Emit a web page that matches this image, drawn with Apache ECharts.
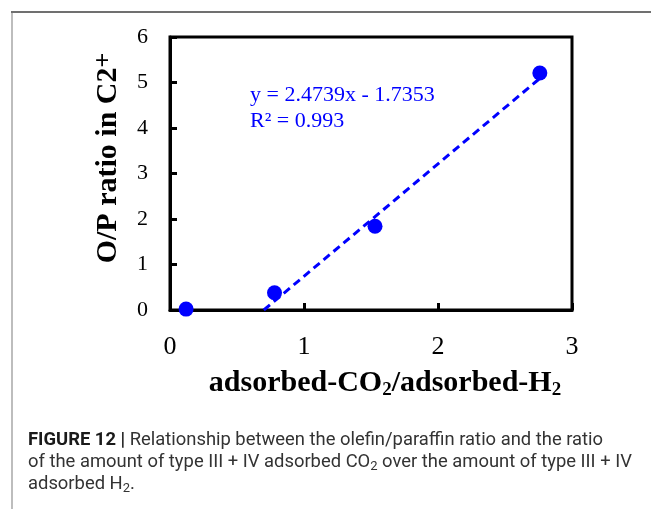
<!DOCTYPE html>
<html>
<head>
<meta charset="utf-8">
<script src="https://cdn.jsdelivr.net/npm/echarts@6/dist/echarts.min.js"></script>
<style>
    html, body { margin: 0; padding: 0; background: #fff; }
    #chart { width: 651px; height: 509px; }
</style>
</head>
<body>
<div id="chart"></div>
<script>
    // measured points (adsorbed-CO2/adsorbed-H2 vs O/P ratio)
    const ratioX = [0.12, 0.78, 1.53, 2.76]
    const opRatio = [0.02, 0.38, 1.84, 5.21]
    // linear fit ends as drawn (y = 2.4739x - 1.7353)
    const fitX = [0.70, 2.76]
    const fitY = [0.0, 5.09]
    const xTicks = [0, 1, 2, 3]
    const yTicks = [0, 1, 2, 3, 4, 5, 6]

    const serif = '"Liberation Serif", "Times New Roman", serif'
    const sans = 'Roboto, "Liberation Sans", Arial, sans-serif'
    const blue = '#0000ff'

    const chart = echarts.init(document.getElementById('chart'))

    const option = {
        backgroundColor: '#fff',
        animation: false,
        grid: {
            left: 170,
            top: 37,
            right: 79,
            bottom: 199,
            show: true,
            borderColor: '#000',
            borderWidth: 3
        },
        xAxis: {
            type: 'value',
            min: xTicks[0],
            max: xTicks[xTicks.length - 1],
            interval: 1,
            axisLine: { show: true, lineStyle: { color: '#000', width: 3 } },
            axisTick: { show: true, inside: true, length: 7, lineStyle: { color: '#000', width: 3 } },
            splitLine: { show: false },
            axisLabel: {
                margin: 24,
                color: '#000',
                fontFamily: serif,
                fontSize: 26
            }
        },
        yAxis: {
            type: 'value',
            min: yTicks[0],
            max: yTicks[yTicks.length - 1],
            interval: 1,
            axisLine: { show: true, lineStyle: { color: '#000', width: 3 } },
            axisTick: { show: true, inside: true, length: 7, lineStyle: { color: '#000', width: 3 } },
            splitLine: { show: false },
            axisLabel: {
                margin: 22,
                color: '#000',
                fontFamily: serif,
                fontSize: 22
            }
        },
        series: [
            {
                type: 'line',
                data: fitX.map((x, i) => [x, fitY[i]]),
                showSymbol: false,
                symbol: 'none',
                lineStyle: { color: blue, width: 3, type: [8, 5] },
                z: 2
            },
            {
                type: 'scatter',
                data: ratioX.map((x, i) => [x, opRatio[i]]),
                symbol: 'circle',
                symbolSize: 15,
                itemStyle: { color: blue, opacity: 1 },
                z: 3
            }
        ],
        graphic: [
            // figure frame
            {
                type: 'line',
                shape: { x1: 12, y1: 12, x2: 12, y2: 509 },
                style: { stroke: '#bdbdbd', lineWidth: 2 }
            },
            {
                type: 'line',
                shape: { x1: 11, y1: 12, x2: 651, y2: 12 },
                style: { stroke: '#707070', lineWidth: 2 }
            },
            // fit equation
            {
                type: 'text',
                left: 250,
                top: 82,
                style: {
                    text: 'y = 2.4739x - 1.7353\nR² = 0.993',
                    fill: blue,
                    font: '22px ' + serif,
                    lineHeight: 26
                }
            },
            // y axis title
            {
                type: 'text',
                x: 108,
                y: 158,
                rotation: Math.PI / 2,
                style: {
                    text: '{m|O/P ratio in C2}{sup|+}',
                    align: 'center',
                    verticalAlign: 'middle',
                    rich: {
                        m: { font: 'bold 30px ' + serif, fill: '#000', lineHeight: 34, verticalAlign: 'middle' },
                        sup: { font: 'bold 26px ' + serif, fill: '#000', lineHeight: 26, verticalAlign: 'top' }
                    }
                }
            },
            // x axis title
            {
                type: 'text',
                x: 385,
                y: 383,
                style: {
                    text: '{m|adsorbed-CO}{s|2}{m|/adsorbed-H}{s|2}',
                    align: 'center',
                    verticalAlign: 'middle',
                    rich: {
                        m: { font: 'bold 30px ' + serif, fill: '#000', lineHeight: 34, verticalAlign: 'middle' },
                        s: { font: 'bold 19px ' + serif, fill: '#000', lineHeight: 19, verticalAlign: 'bottom' }
                    }
                }
            },
            // caption
            {
                type: 'text',
                left: 28,
                top: 431,
                style: {
                    text: '{b|FIGURE 12 |}{r| Relationship between the olefin/paraffin ratio and the ratio}\n' +
                        '{r|of the amount of type III + IV adsorbed CO}{s|2}{r| over the amount of type III + IV}\n' +
                        '{r|adsorbed H}{s|2}{r|.}',
                    rich: {
                        b: { font: 'bold 18.4px ' + sans, fill: '#1a1a1a', lineHeight: 22 },
                        r: { font: '18.4px ' + sans, fill: '#333', lineHeight: 22 },
                        s: { font: '13px ' + sans, fill: '#333', lineHeight: 13, verticalAlign: 'bottom' }
                    }
                }
            }
        ]
    }

    chart.setOption(option)
</script>
</body>
</html>
